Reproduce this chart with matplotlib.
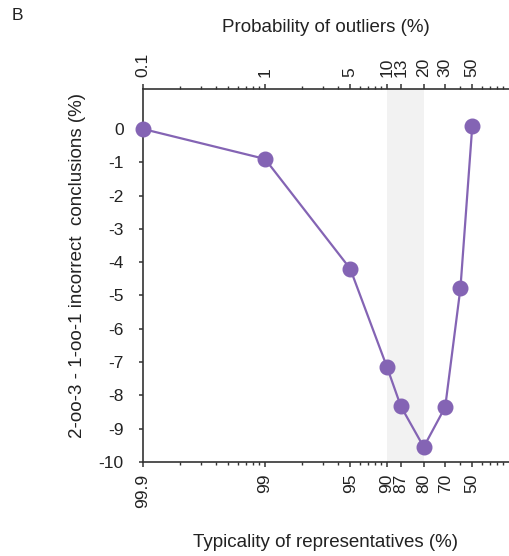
import numpy as np
import matplotlib
matplotlib.use("Agg")
import matplotlib.pyplot as plt
from matplotlib.ticker import FixedLocator, FixedFormatter, LogLocator, NullFormatter

plt.rcParams['font.family'] = ['Liberation Sans', 'DejaVu Sans']

# probability of outliers (%) and the difference in incorrect conclusions (%)
prob_outliers = [0.1, 1, 5, 10, 13, 20, 30, 40, 50]
diff_incorrect = [0.0, -0.9, -4.2, -7.15, -8.33, -9.55, -8.35, -4.78, 0.08]

# tick positions on both axes, labels top = probability, bottom = typicality
tick_prob = [0.1, 1, 5, 10, 13, 20, 30, 50]
top_labels = ['0.1', '1', '5', '10', '13', '20', '30', '50']
bottom_labels = ['99.9', '99', '95', '90', '87', '80', '70', '50']
y_ticks = [0, -1, -2, -3, -4, -5, -6, -7, -8, -9, -10]

# shaded band of outlier probability
band = (10, 20)

purple = '#8464b4'
dark = '#333333'
txt = '#222222'

fig = plt.figure(figsize=(5.1, 5.56), dpi=100)
ax = fig.add_axes([0.2804, 0.1691, 0.7176, 0.6708])

ax.axvspan(band[0], band[1], color='#f2f2f2', zorder=0, lw=0)
ax.plot(prob_outliers, diff_incorrect, color=purple, lw=1.6, marker='o',
        markersize=10.5, clip_on=False, zorder=3)

ax.set_xscale('log')
ax.set_xlim(0.1, 100)
ax.set_ylim(-10, 1.2)

ax.spines['right'].set_visible(False)
for s in ['left', 'top', 'bottom']:
    ax.spines[s].set_color(dark)
    ax.spines[s].set_linewidth(1.2)

ax.xaxis.set_major_locator(FixedLocator(tick_prob))
ax.xaxis.set_major_formatter(FixedFormatter(bottom_labels))
ax.xaxis.set_minor_locator(LogLocator(base=10, subs=np.arange(2, 10)))
ax.xaxis.set_minor_formatter(NullFormatter())
ax.set_yticks(y_ticks)
ax.set_yticklabels([str(v) for v in y_ticks])

ax.tick_params(axis='x', which='major', direction='out', length=3.5, width=1.1,
               color=dark, labelsize=12.5, labelcolor=txt, labelrotation=90, pad=5)
ax.tick_params(axis='x', which='minor', direction='out', length=2.5, width=1.0, color=dark)
ax.tick_params(axis='y', direction='out', length=3, width=1.1, color=dark,
               labelsize=12.5, labelcolor=txt, pad=11)

ax.set_xlabel('Typicality of representatives (%)', fontsize=13.5, color=txt, labelpad=19)
ax.set_ylabel('2-oo-3 - 1-oo-1 incorrect  conclusions (%)', fontsize=13.5, color=txt)
ax.yaxis.set_label_coords(-0.157, 0.528)

# top axis with the probability of outliers
ax2 = ax.twiny()
ax2.set_xscale('log')
ax2.set_xlim(ax.get_xlim())
for s in ['right', 'left', 'bottom', 'top']:
    ax2.spines[s].set_visible(False)
ax2.xaxis.set_major_locator(FixedLocator(tick_prob))
ax2.xaxis.set_major_formatter(FixedFormatter(top_labels))
ax2.xaxis.set_minor_locator(LogLocator(base=10, subs=np.arange(2, 10)))
ax2.xaxis.set_minor_formatter(NullFormatter())
ax2.tick_params(axis='x', which='major', direction='out', length=3.5, width=1.1,
                color=dark, labelsize=12.5, labelcolor=txt, labelrotation=90, pad=5)
ax2.tick_params(axis='x', which='minor', direction='out', length=2.5, width=1.0, color=dark)
ax2.set_xlabel('Probability of outliers (%)', fontsize=13.5, color=txt, labelpad=15)

fig.text(0.022, 0.972, 'B', fontsize=12.5, color=txt, va='center')

plt.savefig('out.png', dpi=100)
